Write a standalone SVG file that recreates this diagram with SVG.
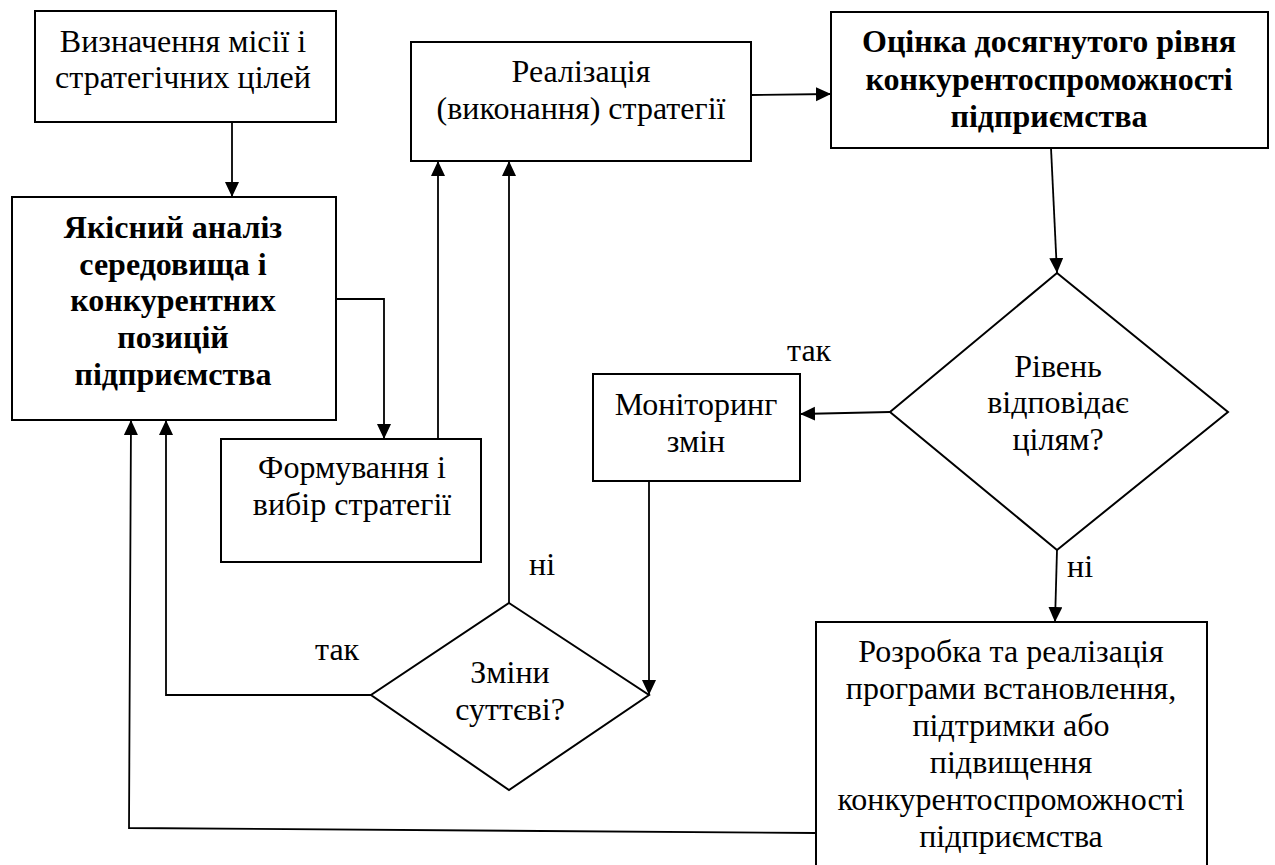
<svg xmlns="http://www.w3.org/2000/svg" width="1275" height="865" viewBox="0 0 1275 865">
<style>
  .box { fill: #fff; stroke: #000; stroke-width: 2; }
  .t { font-family: "Liberation Serif", "Times New Roman", serif; font-size: 32px; fill: #000; text-anchor: middle; }
  .b { font-weight: bold; }
  .lbl { font-family: "Liberation Serif", "Times New Roman", serif; font-size: 32px; fill: #000; }
  .c { fill: none; stroke: #000; stroke-width: 1.8; }
  .ca { fill: none; stroke: #000; stroke-width: 1.8; marker-end: url(#arr); }
</style>
<defs>
  <marker id="arr" markerUnits="userSpaceOnUse" markerWidth="16" markerHeight="15" refX="15" refY="7" orient="auto">
    <path d="M0,0 L15,7 L0,14 z" fill="#000"/>
  </marker>
</defs>
<rect width="1275" height="865" fill="#fff"/>

<g id="connectors">
  <path class="ca" d="M232,122 L232,197"/>
  <path class="ca" d="M336,299 L384,299 L384,439"/>
  <path class="ca" d="M438,439 L438,161"/>
  <path class="ca" d="M751,95 L831,94"/>
  <path class="ca" d="M1051,148 L1057,273"/>
  <path class="ca" d="M890,412 L800,414"/>
  <path class="ca" d="M1057,550 L1055,622"/>
  <path class="ca" d="M649,481 L649,695"/>
  <path class="ca" d="M509,603 L509,161"/>
  <path class="ca" d="M371,695 L166,695 L166,420"/>
  <path class="ca" d="M816,833 L129,828 L131,420"/>
</g>

<g id="n1">
  <rect class="box" x="35" y="11" width="301" height="111"/>
  <text class="t" x="183" y="52">Визначення місії і</text>
  <text class="t" x="183" y="88">стратегічних цілей</text>
</g>

<g id="n2">
  <rect class="box" x="12" y="197" width="324" height="223"/>
  <text class="t b" x="173" y="238">Якісний аналіз</text>
  <text class="t b" x="173" y="275">середовища і</text>
  <text class="t b" x="173" y="311">конкурентних</text>
  <text class="t b" x="173" y="348">позицій</text>
  <text class="t b" x="173" y="385">підприємства</text>
</g>

<g id="n3">
  <rect class="box" x="411" y="42" width="340" height="119"/>
  <text class="t" x="581" y="82">Реалізація</text>
  <text class="t" x="581" y="119">(виконання) стратегії</text>
</g>

<g id="n4">
  <rect class="box" x="831" y="12" width="437" height="136"/>
  <text class="t b" x="1049" y="52">Оцінка досягнутого рівня</text>
  <text class="t b" x="1049" y="90">конкурентоспроможності</text>
  <text class="t b" x="1049" y="127">підприємства</text>
</g>

<g id="n5">
  <path class="box" d="M1057,273 L1228,412 L1057,550 L890,412 z"/>
  <text class="t" x="1058" y="377">Рівень</text>
  <text class="t" x="1058" y="413">відповідає</text>
  <text class="t" x="1058" y="450">цілям?</text>
</g>

<g id="n6">
  <rect class="box" x="593" y="374" width="207" height="107"/>
  <text class="t" x="696" y="415">Моніторинг</text>
  <text class="t" x="696" y="452">змін</text>
</g>

<g id="n7">
  <rect class="box" x="221" y="439" width="260" height="123"/>
  <text class="t" x="352" y="478">Формування і</text>
  <text class="t" x="352" y="515">вибір стратегії</text>
</g>

<g id="n8">
  <path class="box" d="M509,603 L649,695 L509,790 L371,695 z"/>
  <text class="t" x="510" y="683">Зміни</text>
  <text class="t" x="510" y="720">суттєві?</text>
</g>

<g id="n9">
  <rect class="box" x="816" y="622" width="391" height="260"/>
  <text class="t" x="1011" y="662">Розробка та реалізація</text>
  <text class="t" x="1011" y="699">програми встановлення,</text>
  <text class="t" x="1011" y="736">підтримки або</text>
  <text class="t" x="1011" y="773">підвищення</text>
  <text class="t" x="1011" y="810">конкурентоспроможності</text>
  <text class="t" x="1011" y="847">підприємства</text>
</g>

<g id="labels">
  <text class="lbl" x="787" y="361">так</text>
  <text class="lbl" x="315" y="660">так</text>
  <text class="lbl" x="529" y="575">ні</text>
  <text class="lbl" x="1067" y="577">ні</text>
</g>
</svg>
